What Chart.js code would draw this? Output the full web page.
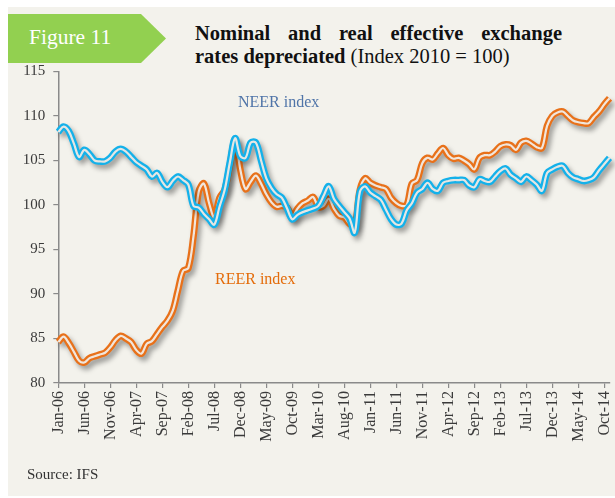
<!DOCTYPE html>
<html lang="en">
<head>
  <meta charset="UTF-8" />
  <title>Figure 11 – Nominal and real effective exchange rates</title>
  <script src="https://cdn.jsdelivr.net/npm/chart.js"></script>
  <style>
    body { margin: 0; width: 615px; height: 498px; background: #fff; position: relative; overflow: hidden;
           font-family: 'Liberation Serif', 'Times New Roman', serif; color: #404040; }
    .panel { position: absolute; left: 8px; top: 7px; right: 0; bottom: 2px; background: #f3f2ec; }
    .banner { position: absolute; left: 8px; top: 14px; width: 158px; height: 49px; background: #92d050;
              clip-path: polygon(0 0, 133px 0, 158px 50%, 133px 100%, 0 100%); }
    .banner span { position: absolute; left: 21px; top: 11px; color: #fff; font-size: 21.5px; }
    .title { position: absolute; left: 195px; top: 22px; width: 367px; font-size: 20.5px; line-height: 23px; color: #111; }
    .title .l1 { font-weight: bold; text-align: justify; text-align-last: justify; }
    .title b { font-weight: bold; }
    .lbl { position: absolute; font-size: 16px; white-space: nowrap; }
    .neer { left: 238px; top: 93px; color: #4f74a8; }
    .reer { left: 215px; top: 270px; color: #e46c0a; }
    .source { position: absolute; left: 27px; top: 466px; font-size: 15px; color: #333; }
    .wrap { position: absolute; left: 0; top: 0; width: 615px; height: 498px; }
  </style>
</head>
<body>
<div class="panel"></div>
<div class="banner"><span>Figure 11</span></div>
<div class="title">
  <div class="l1">Nominal and real effective exchange</div>
  <div><b>rates depreciated</b> (Index 2010 = 100)</div>
</div>
<div class="wrap"><canvas id="chart"></canvas></div>
<div class="lbl neer">NEER index</div>
<div class="lbl reer">REER index</div>
<div class="source">Source: IFS</div>

<script>
  // months Jan-06 .. Nov-14
  const monthNames = ['Jan','Feb','Mar','Apr','May','Jun','Jul','Aug','Sep','Oct','Nov','Dec'];
  const years = ['06','07','08','09','10','11','12','13','14'];

  const neer = [
    108.2, 108.8, 108.3, 106.9, 105.4, 106.2, 105.7, 105.0, 104.9, 104.9, 105.3, 106.0,
    106.3, 106.0, 105.4, 104.8, 104.4, 104.0, 103.2, 103.6, 102.6, 102.0, 102.7, 103.2,
    102.8, 102.3, 99.9, 99.7, 99.0, 98.4, 97.8, 99.8, 101.7, 104.8, 107.5, 105.5,
    105.3, 107.0, 107.0, 105.0, 103.0, 101.9, 101.2, 100.8, 99.6, 98.4, 98.9, 99.2,
    99.4, 99.6, 99.9, 101.0, 102.1, 100.7, 99.9, 99.2, 98.5, 96.9, 101.5, 102.1,
    101.4, 101.0, 100.6, 99.5, 98.4, 97.8, 97.9, 99.4, 100.2, 101.4, 101.8, 102.5,
    101.8, 101.6, 102.5, 102.7, 102.8, 102.8, 102.8, 102.2, 102.0, 102.9, 102.7, 102.6,
    103.2, 103.8, 104.1, 103.4, 103.0, 102.6, 103.2, 102.8, 102.3, 101.6, 103.6, 104.0,
    104.3, 104.4, 103.6, 103.1, 102.9, 102.7, 102.8, 103.1, 103.9, 104.6, 105.3
  ];
  const reer = [
    84.6, 85.2, 84.5, 83.5, 82.5, 82.3, 82.8, 83.0, 83.2, 83.4, 84.0, 84.8,
    85.3, 85.0, 84.6, 83.7, 83.3, 84.4, 84.7, 85.5, 86.3, 87.0, 88.1, 90.4,
    92.6, 92.9, 96.5, 101.5, 102.4, 100.2, 98.6, 100.8, 101.7, 104.5, 107.3, 104.0,
    101.8, 102.6, 103.3, 102.4, 101.2, 100.3, 99.8, 99.9, 99.7, 98.7, 99.6, 100.2,
    100.5, 100.9, 99.8, 99.9, 100.7, 99.6, 98.8, 98.6, 97.9, 97.7, 101.7, 103.0,
    102.5, 102.2, 102.0, 101.8, 100.8, 100.2, 99.9, 100.0, 102.4, 102.8, 104.7, 105.3,
    105.1, 105.8, 106.4, 105.6, 105.2, 105.3, 105.0, 104.6, 104.0, 105.3, 105.6, 105.6,
    106.0, 106.6, 106.8, 106.7, 106.2, 107.0, 107.2, 106.9, 106.5, 106.4, 108.9, 110.0,
    110.4, 110.5, 110.0, 109.5, 109.3, 109.2, 109.2, 109.9, 110.5, 111.3, 112.0
  ];
  const yMin = 80, yMax = 115, yStep = 5;

  const labels = [];
  years.forEach(y => monthNames.forEach(m => labels.push(m + '-' + y)));
  labels.length = neer.length;

  // soft drop shadow under the coloured lines
  const lineShadow = {
    id: 'lineShadow',
    beforeDatasetDraw(chart, args) {
      if (chart.data.datasets[args.index].shadow) {
        const c = chart.ctx;
        c.save();
        c.shadowColor = 'rgba(0,0,0,0.35)';
        c.shadowBlur = 5;
        c.shadowOffsetX = 3;
        c.shadowOffsetY = 4;
      }
    },
    afterDatasetDraw(chart, args) {
      if (chart.data.datasets[args.index].shadow) chart.ctx.restore();
    }
  };

  const base = { pointRadius: 0, tension: 0.35, fill: false, clip: 10 };

  new Chart(document.getElementById('chart'), {
    type: 'line',
    data: {
      labels: labels,
      datasets: [
        Object.assign({ label: 'NEER core', data: neer, borderColor: '#e6e6e3', borderWidth: 2.2, order: 1 }, base),
        Object.assign({ label: 'NEER index', data: neer, borderColor: '#14b1ea', borderWidth: 6.8, order: 2, shadow: true }, base),
        Object.assign({ label: 'REER core', data: reer, borderColor: '#f1e6dc', borderWidth: 2.2, order: 3 }, base),
        Object.assign({ label: 'REER index', data: reer, borderColor: '#e8711a', borderWidth: 6.8, order: 4, shadow: true }, base)
      ]
    },
    options: {
      responsive: true,
      maintainAspectRatio: false,
      animation: false,
      layout: { padding: { left: 0, top: 71.5, right: 5.5, bottom: 0 } },
      plugins: { legend: { display: false }, tooltip: { enabled: false } },
      scales: {
        x: {
          offset: false,
          afterBuildTicks: axis => { axis.ticks = axis.ticks.filter(t => t.value % 5 === 0); },
          afterFit: s => { s.height = 115; s.paddingLeft = 0; s.paddingRight = 0; },
          grid: { drawOnChartArea: false, drawTicks: true, tickLength: 5, color: '#8a8a8a', lineWidth: 1.2 },
          border: { display: true, color: '#8a8a8a', width: 1.5 },
          ticks: {
            autoSkip: false, minRotation: 90, maxRotation: 90, padding: 3,
            color: '#3a3a3a', font: { family: 'Liberation Serif', size: 16 }
          }
        },
        y: {
          min: yMin, max: yMax,
          afterFit: s => { s.width = 58.3; s.paddingTop = 0; s.paddingBottom = 0; },
          grid: { drawOnChartArea: false, drawTicks: true, tickLength: 5, color: '#8a8a8a', lineWidth: 1.2 },
          border: { display: true, color: '#8a8a8a', width: 1.5 },
          ticks: {
            stepSize: yStep, padding: 8,
            color: '#3a3a3a', font: { family: 'Liberation Serif', size: 15 }
          }
        }
      }
    },
    plugins: [lineShadow]
  });
</script>
</body>
</html>
